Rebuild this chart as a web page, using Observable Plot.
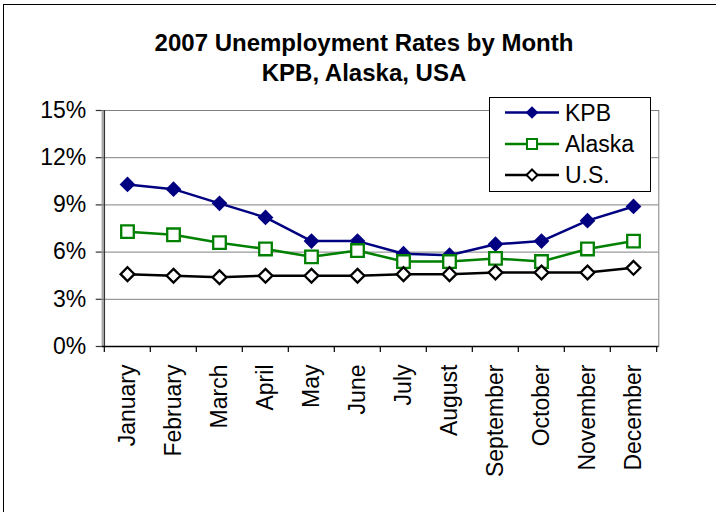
<!DOCTYPE html>
<html><head><meta charset="utf-8">
<script src="https://cdn.jsdelivr.net/npm/d3@7"></script>
<script src="https://cdn.jsdelivr.net/npm/@observablehq/plot@0.6"></script>
<style>
html,body{margin:0;padding:0;background:#fff;overflow:hidden;}
#wrap{position:relative;width:716px;height:512px;font-family:"Liberation Sans",Arial,sans-serif;}
#frame{position:absolute;left:3px;top:4px;width:800px;height:600px;border:1px solid #000;box-sizing:border-box;}
#title{position:absolute;left:6px;top:28px;width:716px;text-align:center;font-weight:bold;font-size:24px;line-height:30px;color:#000;}
#chart{position:absolute;left:0;top:0;}
#legend{position:absolute;left:489px;top:97px;width:162px;height:95px;border:1px solid #000;background:#fff;box-sizing:border-box;}
#legend svg{position:absolute;left:-1px;top:-1px;}
</style></head><body>
<div id="wrap"><div id="frame"></div><div id="chart"></div>
<div id="title">2007 Unemployment Rates by Month<br>KPB, Alaska, USA</div>
<div id="legend"></div></div>
<script>
const months = ["January","February","March","April","May","June","July","August","September","October","November","December"];
const kpb    = [10.3, 10.0, 9.1, 8.2, 6.7, 6.7, 5.9, 5.8, 6.5, 6.7, 8.0, 8.9];
const alaska = [7.3, 7.1, 6.6, 6.2, 5.7, 6.1, 5.4, 5.4, 5.6, 5.4, 6.2, 6.7];
const us     = [4.6, 4.5, 4.4, 4.5, 4.5, 4.5, 4.6, 4.6, 4.7, 4.7, 4.7, 5.0];
const seriesNames = ["KPB", "Alaska", "U.S."];
const yTicks = [0, 3, 6, 9, 12, 15];

const W = 716, H = 512, L = 101.7, R = 658.3, T = 110, B = 346;
const bw = (R - L) / months.length;

const seriesData = [kpb, alaska, us];
const styles = [
  {stroke: "#000080", fill: "#000080", symbol: "diamond2", r: 7.1},
  {stroke: "#008000", fill: "#fff", symbol: "square", r: 7.1},
  {stroke: "#000000", fill: "#fff", symbol: "diamond2", r: 6.2}
];
const tables = seriesData.map((vals, s) => months.map((m, i) => ({month: m, series: seriesNames[s], value: vals[i]})));

const seriesMarks = tables.flatMap((rows, s) => [
  Plot.line(rows, {x: "month", y: "value", stroke: styles[s].stroke, strokeWidth: 2.5}),
  Plot.dot(rows, {x: "month", y: "value", symbol: () => styles[s].symbol, r: styles[s].r,
    fill: styles[s].fill, stroke: styles[s].stroke, strokeWidth: s === 0 ? 0 : 2.3})
]);

const chart = Plot.plot({
  width: W, height: H,
  marginLeft: L, marginRight: W - R, marginTop: T, marginBottom: H - B,
  style: {fontFamily: "'Liberation Sans', Arial, sans-serif", fontSize: "23px", color: "#000", background: "transparent", overflow: "visible"},
  x: {type: "band", domain: months, padding: 0, label: null},
  y: {domain: [0, 15], label: null},
  symbol: {type: "identity"},
  marks: [
    Plot.gridY(yTicks.slice(1), {stroke: "#808080", strokeOpacity: 1, strokeWidth: 1}),
    Plot.frame({stroke: "#808080"}),
    Plot.ruleY([0], {stroke: "#000", strokeWidth: 1.5}),
    Plot.ruleX([months[0]], {dx: -bw / 2, stroke: "#333", strokeWidth: 1.5}),
    Plot.axisY(yTicks, {tickSize: 6, tickPadding: 10, tickFormat: d => d + "%", stroke: "#333", strokeWidth: 1.2, fill: "#000"}),
    Plot.axisX(months, {tickSize: 6, tickFormat: () => "", dx: -bw / 2, stroke: "#000", strokeWidth: 1.2}),
    Plot.axisX([months[months.length - 1]], {tickSize: 6, tickFormat: () => "", dx: bw / 2, stroke: "#000", strokeWidth: 1.2}),
    Plot.axisX(months, {tickSize: 0, tickPadding: 18, tickRotate: -90, fill: "#000"}),
    ...seriesMarks
  ]
});
document.getElementById("chart").appendChild(chart);

// legend
const lg = d3.select("#legend").append("svg").attr("width", 162).attr("height", 95)
  .style("font-family", "'Liberation Sans', Arial, sans-serif").style("font-size", "23px");
const rowY = [15.5, 47, 78];
seriesNames.forEach((name, s) => {
  const g = lg.append("g").attr("transform", `translate(0,${rowY[s]})`);
  g.append("line").attr("x1", 16).attr("x2", 70).attr("y1", 0).attr("y2", 0)
    .attr("stroke", styles[s].stroke).attr("stroke-width", 2.5);
  const sym = styles[s].symbol === "square" ? d3.symbolSquare : d3.symbolDiamond2;
  const r = styles[s].r * 0.8;
  g.append("path").attr("transform", "translate(43,0)")
    .attr("d", d3.symbol(sym, Math.PI * r * r)())
    .attr("fill", styles[s].fill).attr("stroke", styles[s].stroke)
    .attr("stroke-width", s === 0 ? 0 : 2);
  g.append("text").attr("x", 76).attr("y", 8.3).text(name).attr("fill", "#000");
});
</script>
</body></html>
